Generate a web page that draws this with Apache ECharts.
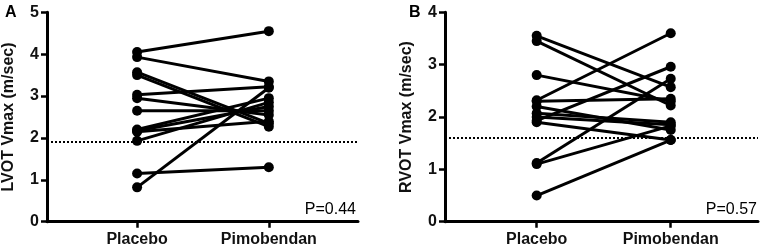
<!DOCTYPE html>
<html><head><meta charset="utf-8">
<script src="https://cdn.jsdelivr.net/npm/echarts@6/dist/echarts.min.js"></script>
<style>html,body{margin:0;padding:0;background:#fff}#c{width:765px;height:250px}</style>
</head><body><div id="c"></div>
<script>
const categories = ['Placebo', 'Pimobendan'];
const lvotPlacebo = [4.05, 3.93, 3.57, 3.50, 3.03, 2.95, 2.65, 2.20, 2.17, 2.15, 1.93, 1.15, 0.82];
const lvotPimo    = [4.55, 3.35, 2.35, 2.27, 3.22, 2.55, 2.65, 2.95, 2.75, 2.40, 2.85, 1.30, 3.20];
const rvotPlacebo = [3.55, 3.45, 2.80, 2.32, 2.30, 2.20, 2.07, 2.00, 1.93, 1.90, 1.12, 1.10, 0.50];
const rvotPimo    = [2.57, 2.22, 2.30, 3.60, 2.35, 1.75, 1.90, 1.85, 2.96, 1.56, 2.73, 1.83, 1.56];
const lvotRef = 1.9, rvotRef = 1.6;
const yTicksA = [0, 1, 2, 3, 4, 5];
const yTicksB = [0, 1, 2, 3, 4];

const FONT = '"Liberation Sans", Arial, sans-serif';
const chart = echarts.init(document.getElementById('c'));

function xAxis(gi, min, max) {
  return {
    type: 'value', gridIndex: gi, min: min, max: max,
    splitLine: {show: false},
    axisLine: {show: true, onZero: false, lineStyle: {color: '#000', width: 3}},
    axisTick: {show: true, customValues: [1, 2], length: 6, lineStyle: {color: '#000', width: 2.5}},
    axisLabel: {customValues: [1, 2], formatter: v => categories[Math.round(v) - 1] || '',
      color: '#111', fontFamily: FONT, fontWeight: 'bold', fontSize: 16, margin: 10}
  };
}
function yAxis(gi, ticks, name) {
  return {
    type: 'value', gridIndex: gi, min: ticks[0], max: ticks[ticks.length - 1], interval: 1,
    name: name, nameLocation: 'middle', nameGap: 30,
    nameTextStyle: {color: '#111', fontFamily: FONT, fontWeight: 'bold', fontSize: 16},
    splitLine: {show: false},
    axisLine: {show: true, lineStyle: {color: '#000', width: 3}},
    axisTick: {show: true, length: 6, lineStyle: {color: '#000', width: 2.5}},
    axisLabel: {color: '#111', fontFamily: FONT, fontWeight: 'bold', fontSize: 16, margin: 8}
  };
}
function subjectSeries(gi, pre, post, ref) {
  return pre.map((v, i) => {
    const s = {
      type: 'line', xAxisIndex: gi, yAxisIndex: gi,
      data: [[1, v], [2, post[i]]],
      symbol: 'circle', symbolSize: 10, showSymbol: true,
      lineStyle: {color: '#000', width: 3},
      itemStyle: {color: '#000'},
      silent: true, animation: false
    };
    if (i === 0) {
      s.markLine = {silent: true, symbol: 'none', label: {show: false},
        lineStyle: {color: '#000', width: 2, type: [2, 2]},
        data: [{yAxis: ref}]};
    }
    return s;
  });
}

chart.setOption({
  animation: false,
  grid: [
    {left: 44, right: 407, top: 12.3, bottom: 28.3},
    {left: 445, right: 7, top: 12.3, bottom: 28.3}
  ],
  xAxis: [xAxis(0, 0.316, 2.677), xAxis(1, 0.316, 2.651)],
  yAxis: [yAxis(0, yTicksA, 'LVOT Vmax (m/sec)'), yAxis(1, yTicksB, 'RVOT Vmax (m/sec)')],
  series: [].concat(subjectSeries(0, lvotPlacebo, lvotPimo, lvotRef), subjectSeries(1, rvotPlacebo, rvotPimo, rvotRef)),
  graphic: [
    {type: 'text', left: 5, top: 5, style: {text: 'A', font: 'bold 16px ' + FONT, fill: '#000'}},
    {type: 'text', left: 409, top: 5, style: {text: 'B', font: 'bold 16px ' + FONT, fill: '#000'}},
    {type: 'text', right: 409, top: 202, style: {text: 'P=0.44', font: '16px ' + FONT, fill: '#000'}},
    {type: 'text', right: 8, top: 202, style: {text: 'P=0.57', font: '16px ' + FONT, fill: '#000'}}
  ]
});
</script></body></html>
